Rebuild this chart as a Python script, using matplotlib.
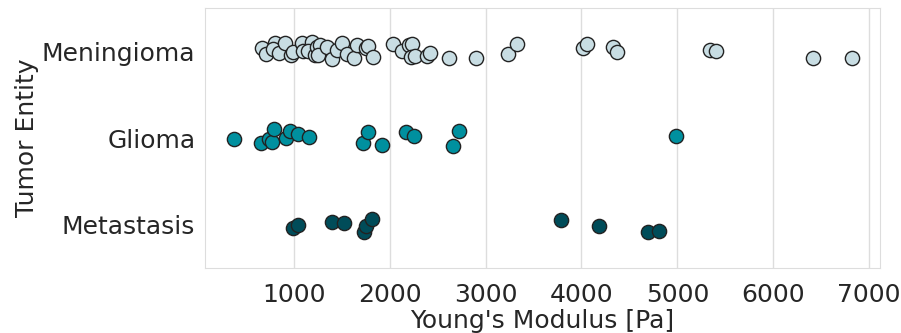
import numpy as np
import matplotlib
matplotlib.use("Agg")
import matplotlib.pyplot as plt
import seaborn as sns

# Young's modulus per sample [Pa] and the vertical scatter offset of each point
entities = ["Meningioma", "Glioma", "Metastasis"]

menin_E = [662, 707, 801, 784, 846, 906, 965, 986, 1080, 1097, 1184, 1149,
           1219, 1237, 1271, 1253, 1341, 1393, 1445, 1497, 1550, 1630, 1654,
           1751, 1775, 1827, 2030, 2124, 2203, 2228, 2218, 2262, 2384, 2419,
           2621, 2899, 3236, 3323, 4019, 4061, 4325, 4367, 5341, 5403, 6412, 6819]
menin_off = [-0.035, 0.031, -0.092, -0.023, 0.016, -0.099, 0.043, 0.005, -0.092,
             -0.007, -0.111, -0.007, 0.043, -0.053, -0.073, 0.043, -0.053, 0.092,
             -0.015, -0.092, 0.031, 0.08, -0.073, -0.035, -0.06, 0.07, -0.084,
             -0.007, -0.073, -0.084, 0.069, 0.054, 0.054, 0.016, 0.081, 0.081,
             0.035, -0.081, -0.035, -0.084, -0.046, 0.005, -0.015, -0.003, 0.081, 0.081]

glioma_E = [377, 655, 742, 767, 791, 916, 958, 1038, 1160, 1723, 1768, 1915,
            2168, 2252, 2655, 2722, 4982]
glioma_off = [0.015, 0.061, 0.015, 0.05, -0.1, 0.003, -0.084, -0.046, -0.008,
              0.061, -0.069, 0.077, -0.069, -0.023, 0.092, -0.084, -0.027]

meta_E = [986, 1045, 1400, 1525, 1733, 1751, 1817, 3789, 4186, 4697, 4812]
meta_off = [0.042, 0.003, -0.035, -0.023, 0.088, 0.015, -0.066, -0.054, 0.015,
            0.088, 0.069]

colors = ["#c8dde3", "#00909f", "#004c59"]

sns.set_style("whitegrid")
plt.rcParams["font.family"] = ["DejaVu Sans"]

fig = plt.figure(figsize=(9.01, 3.33), dpi=100)
ax = fig.add_axes([0.2275, 0.195, 0.7492, 0.781])

groups = [(menin_E, menin_off), (glioma_E, glioma_off), (meta_E, meta_off)]
for i, (vals, offs) in enumerate(groups):
    ax.scatter(vals, i + np.array(offs), s=105, color=colors[i],
               edgecolor="#222222", linewidth=1.0, zorder=3)

ax.set_yticks(range(len(entities)))
ax.set_yticklabels(entities)
ax.set_ylim(2.5, -0.5)
ax.set_xlim(71, 7115)
ax.set_xticks([1000, 2000, 3000, 4000, 5000, 6000, 7000])
ax.grid(axis="y", visible=False)
ax.grid(axis="x", color="#dddddd", linewidth=1.0)
ax.tick_params(axis="both", labelsize=18, colors="#262626", length=0)
ax.tick_params(axis="x", pad=11)
ax.tick_params(axis="y", pad=7)
ax.set_xlabel("Young's Modulus [Pa]", fontsize=18, color="#262626", labelpad=1)
ax.set_ylabel("Tumor Entity", fontsize=18, color="#262626", labelpad=2)
for sp in ax.spines.values():
    sp.set_color("#dddddd")

fig.savefig("out.png", dpi=100)
